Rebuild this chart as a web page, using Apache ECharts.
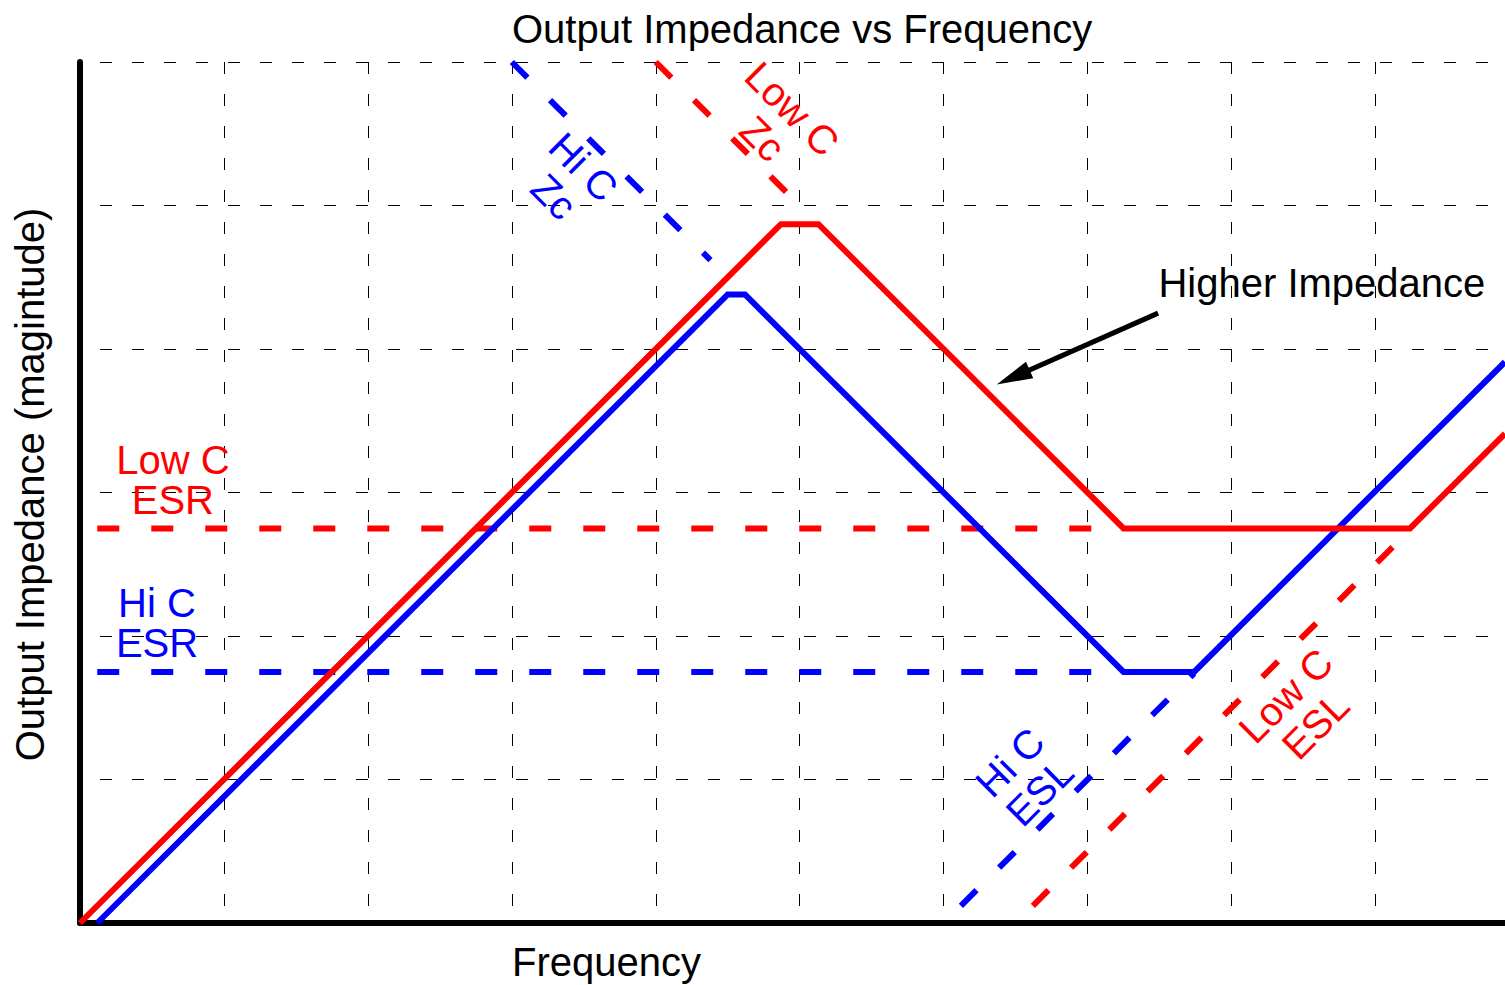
<!DOCTYPE html>
<html>
<head>
<meta charset="utf-8">
<script src="https://cdn.jsdelivr.net/npm/echarts@6/dist/echarts.min.js"></script>
<style>
html,body{margin:0;padding:0;background:#ffffff;}
#chart{width:1505px;height:985px;}
</style>
</head>
<body>
<div id="chart"></div>
<script>
// ---- data (axis units: one grid cell = 1) ----
const xRange = [0, 9.9];
const yRange = [0, 6];
const gridStep = 1;

const lowCImpedance = [[0, 0], [4.87, 4.87], [5.13, 4.87], [7.25, 2.75], [9.24, 2.75], [9.9, 3.41]];
const hiCImpedance  = [[0.12, 0], [4.5, 4.38], [4.62, 4.38], [7.25, 1.75], [7.74, 1.75], [9.9, 3.91]];
const lowCESR = [[0.12, 2.75], [7.25, 2.75]];
const hiCESR  = [[0.12, 1.75], [7.25, 1.75]];
const lowCZc  = [[4, 6], [5, 5]];
const hiCZc   = [[3, 6], [4.38, 4.62]];
const lowCESL = [[6.62, 0.12], [9.24, 2.74]];
const hiCESL  = [[6.12, 0.12], [7.74, 1.74]];

const labelTexts  = ['Low C\nESR', 'Hi C\nESR', 'Hi C\nZc', 'Low C\nZc', 'Hi C\nESL', 'Low C\nESL', 'Higher Impedance'];
const labelAnchors = [[0.645, 3.09], [0.535, 2.09], [3.396, 5.165], [4.845, 5.57], [6.563, 1.016], [8.48, 1.48], [8.628, 4.462]];
const labelAngles = [0, 0, -45, -45, 45, 45, 0];

const arrowFrom = [7.49, 4.25];
const arrowTo   = [6.483, 3.803];

const titleText = 'Output Impedance vs Frequency';
const xName = 'Frequency';
const yName = 'Output Impedance (magintude)';

// ---- styles ----
const RED = '#ff0000', BLUE = '#0000ff', BLACK = '#000000';
const FONT = '"Liberation Sans", Arial, sans-serif';
const labelColors = [RED, BLUE, BLUE, RED, BLUE, RED, BLACK];
const DASH = [22, 32];

function lineSeries(name, data, color, dashed, z) {
  return {
    name: name, type: 'line', data: data, z: z,
    showSymbol: false, symbol: 'none', silent: true, animation: false,
    lineStyle: { color: color, width: 6, type: dashed ? DASH : 'solid', cap: 'butt', join: 'miter' },
    emphasis: { disabled: true }
  };
}

const labelData = labelTexts.map(function (t, i) {
  return {
    value: labelAnchors[i],
    label: {
      show: true, position: 'inside', formatter: t, rotate: labelAngles[i],
      color: labelColors[i], opacity: 1, textBorderWidth: 0, textBorderColor: 'transparent',
      fontSize: 40, fontFamily: FONT,
      lineHeight: labelAngles[i] === 0 ? 40 : 42, align: 'center', verticalAlign: 'middle'
    }
  };
});

const chart = echarts.init(document.getElementById('chart'), null, { renderer: 'svg' });

const axisCommon = {
  type: 'value', interval: gridStep,
  axisTick: { show: false }, axisLabel: { show: false },
  axisLine: { show: true, onZero: false, lineStyle: { color: BLACK, width: 6 } }
};

chart.setOption({
  backgroundColor: '#ffffff',
  animation: false,
  title: [
    { text: titleText, left: 512, top: 9, padding: 0,
      textStyle: { fontSize: 40, fontWeight: 'normal', color: BLACK, fontFamily: FONT } },
    { text: xName, left: 512, top: 942, padding: 0,
      textStyle: { fontSize: 40, fontWeight: 'normal', color: BLACK, fontFamily: FONT } }
  ],
  grid: { left: 80, right: 0, top: 62, bottom: 62, containLabel: false },
  xAxis: Object.assign({}, axisCommon, {
    min: xRange[0], max: xRange[1],
    splitLine: { show: true, showMinLine: false, showMaxLine: false,
      lineStyle: { color: BLACK, width: 1, type: [12, 20] } }
  }),
  yAxis: Object.assign({}, axisCommon, {
    min: yRange[0], max: yRange[1],
    splitLine: { show: true, showMinLine: false, showMaxLine: true,
      lineStyle: { color: BLACK, width: 1, type: [12, 20], dashOffset: 12 } }
  }),
  graphic: [{
    type: 'text', x: 30, y: 484.5, rotation: Math.PI / 2, silent: true,
    style: { text: yName, fill: BLACK, fontSize: 40, fontFamily: FONT,
      align: 'center', verticalAlign: 'middle', textAlign: 'center', textVerticalAlign: 'middle' }
  }],
  series: [
    lineSeries('Low C ESR', lowCESR, RED, true, 2),
    lineSeries('Hi C ESR', hiCESR, BLUE, true, 2),
    lineSeries('Low C Zc', lowCZc, RED, true, 2),
    lineSeries('Hi C Zc', hiCZc, BLUE, true, 2),
    lineSeries('Low C ESL', lowCESL, RED, true, 2),
    lineSeries('Hi C ESL', hiCESL, BLUE, true, 2),
    lineSeries('Hi C', hiCImpedance, BLUE, false, 3),
    lineSeries('Low C', lowCImpedance, RED, false, 3),
    {
      name: 'arrow', type: 'line', data: [], silent: true, z: 4,
      markLine: {
        silent: true, animation: false,
        label: { show: false },
        emphasis: { disabled: true },
        lineStyle: { color: BLACK, width: 5, type: 'solid' },
        symbol: ['none', 'triangle'],
        data: [[
          { coord: arrowFrom, symbol: 'none' },
          { coord: arrowTo, symbol: 'triangle', symbolSize: [18, 36] }
        ]]
      }
    },
    {
      name: 'labels', type: 'scatter', data: labelData, z: 5, silent: true,
      symbol: 'circle', symbolSize: 1, itemStyle: { color: 'rgba(0,0,0,0)' },
      emphasis: { disabled: true }
    }
  ]
});
</script>
</body>
</html>
